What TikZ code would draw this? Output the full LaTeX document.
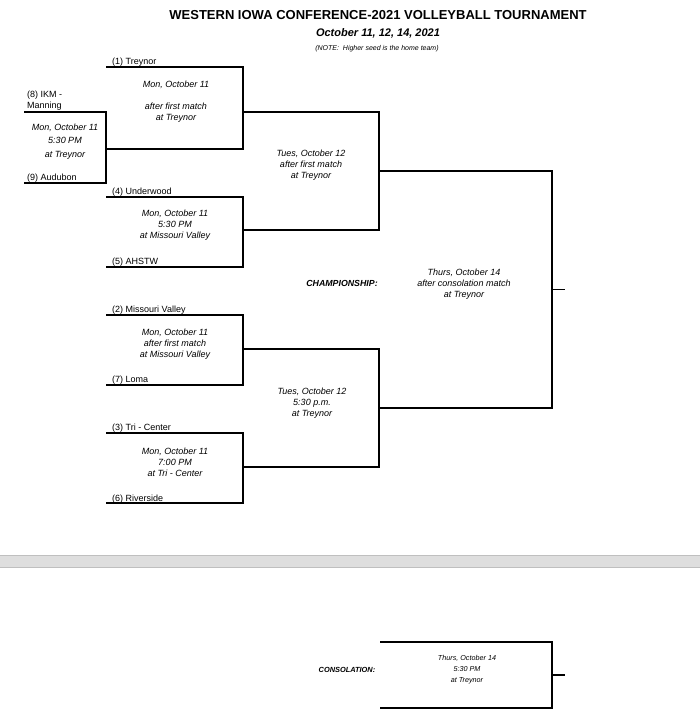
\documentclass[tikz,border=0pt]{standalone}
\usepackage{fontspec}
\setmainfont{Liberation Sans}

\begin{document}
\begin{tikzpicture}[x=1pt,y=-1pt,
    slot/.style={inner sep=0pt, outer sep=0pt, minimum width=#1},
    bracket/.style={line width=1.4pt, line join=miter},
    team/.style={anchor=base west, inner sep=0pt, font=\fontsize{9}{11}\selectfont},
    sched/.style={align=center, inner sep=0pt, font=\fontsize{9}{11}\selectfont\itshape},
    heading/.style={inner sep=0pt, font=\bfseries\itshape}]
    \useasboundingbox (0,0) rectangle (700,720);

    \fill[black!13] (0,555) rectangle (700,567);
    \draw[black!25, line width=0.8pt] (0,555) -- (700,555) (0,567) -- (700,567);

    \node (title) at (378,15) {\fontsize{13}{15}\selectfont\bfseries WESTERN IOWA CONFERENCE-2021 VOLLEYBALL TOURNAMENT};
    \node (dates) at (378,33) {\fontsize{11}{13}\selectfont\bfseries\itshape October 11, 12, 14, 2021};
    \node (note) at (377,48.5) {\fontsize{7}{8}\selectfont\itshape (NOTE:\ \ Higher seed is the home team)};

    \node[slot=82, minimum height=71] (play) at (65,147.5) {};
    \node[slot=137, minimum height=82] (qfa) at (174.5,108) {};
    \node[slot=137, minimum height=70] (qfb) at (174.5,232) {};
    \node[slot=137, minimum height=70] (qfc) at (174.5,350) {};
    \node[slot=137, minimum height=70] (qfd) at (174.5,468) {};
    \node[slot=136, minimum height=118] (sfa) at (311,171) {};
    \node[slot=136, minimum height=118] (sfb) at (311,408) {};
    \node[slot=173, minimum height=237] (final) at (465.5,289.5) {};
    \node[slot=172, minimum height=66] (cons) at (466,675) {};
    \coordinate (champ) at (565,289.5);
    \coordinate (third) at (565,675);

    \foreach \m in {play,qfa,qfb,qfc,qfd,sfa,sfb,final,cons}
        \draw[bracket] (\m.north west) -- (\m.north east) -- (\m.south east) -- (\m.south west);
    \draw[bracket] (final.east) -- (champ);
    \draw[bracket] (cons.east) -- (third);

    \node[team, anchor=south west, align=left] (ikm) at (27,111) {(8) IKM -\\Manning};
    \node[team] (aud) at (27,180) {(9) Audubon};
    \node[team] (trey) at (112,64.5) {(1) Treynor};
    \node[team] (und) at (112,194.5) {(4) Underwood};
    \node[team] (ahs) at (112,264.5) {(5) AHSTW};
    \node[team] (mov) at (112,312.5) {(2) Missouri Valley};
    \node[team] (lom) at (112,382.5) {(7) Loma};
    \node[team] (tri) at (112,430.5) {(3) Tri - Center};
    \node[team] (riv) at (112,501.5) {(6) Riverside};

    \node[sched, font=\fontsize{9}{13.5}\selectfont\itshape] (tplay) at (65,141.5) {Mon, October 11\\5:30 PM\\at Treynor};
    \node[sched] (tqfa) at (176,102) {Mon, October 11\\[11pt]after first match\\at Treynor};
    \node[sched] (tqfb) at (175,225) {Mon, October 11\\5:30 PM\\at Missouri Valley};
    \node[sched] (tqfc) at (175,344.5) {Mon, October 11\\after first match\\at Missouri Valley};
    \node[sched] (tqfd) at (175,462.5) {Mon, October 11\\7:00 PM\\at Tri - Center};
    \node[sched] (tsfa) at (311,165.5) {Tues, October 12\\after first match\\at Treynor};
    \node[sched] (tsfb) at (312,403.5) {Tues, October 12\\5:30 p.m.\\at Treynor};
    \node[sched] (tfinal) at (464,284.5) {Thurs, October 14\\after consolation match\\at Treynor};
    \node[sched, font=\fontsize{7.2}{11}\selectfont\itshape] (tcons) at (467,670) {Thurs, October 14\\5:30 PM\\at Treynor};

    \node[heading, font=\fontsize{8.8}{11}\selectfont\bfseries\itshape] (chlab) at (342,283) {CHAMPIONSHIP:};
    \node[heading, font=\fontsize{7.4}{9}\selectfont\bfseries\itshape] (colab) at (347,670) {CONSOLATION:};
\end{tikzpicture}
\end{document}
